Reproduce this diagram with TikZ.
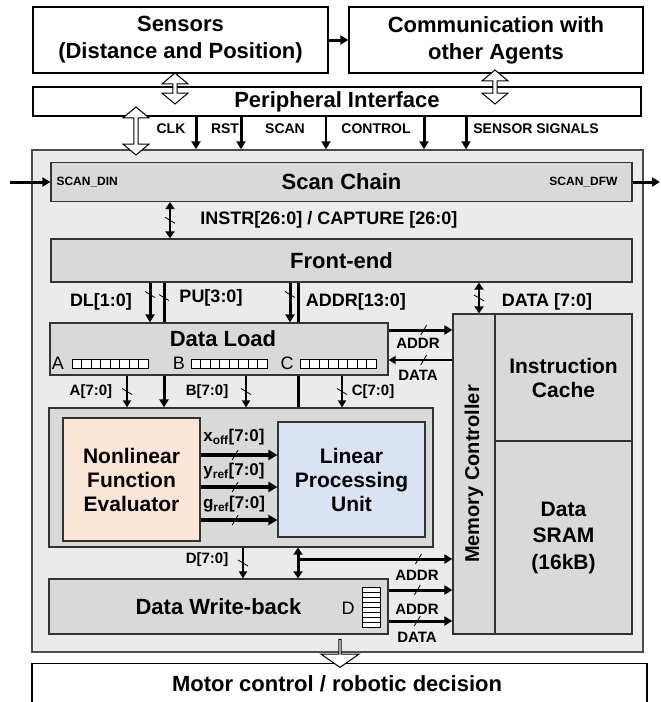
\documentclass[tikz,border=0pt]{standalone}
\usepackage{fontspec}
\setmainfont{Liberation Sans}
\usetikzlibrary{positioning,shapes.arrows,arrows.meta,decorations.markings}

\definecolor{nlfpeach}{HTML}{FBE5D6}
\definecolor{lpublue}{HTML}{DAE3F3}
\newcommand{\bigtxt}{\fontsize{22}{27}\selectfont\bfseries}
\newcommand{\midtxt}{\fontsize{18}{20}\selectfont\bfseries}
\newcommand{\smltxt}{\fontsize{15}{17}\selectfont\bfseries}
\newcommand{\sigtxt}{\fontsize{14}{16}\selectfont\bfseries}
\newcommand{\tnytxt}{\fontsize{12}{14}\selectfont\bfseries}
\newcommand{\regtxt}{\fontsize{18}{20}\selectfont}

\tikzset{
  wbox/.style={draw, line width=1.2pt, fill=white, inner sep=0pt, align=center, font=\bigtxt},
  gbox/.style={draw=black!80, line width=1.2pt, fill=black!15, inner sep=0pt, align=center, font=\bigtxt},
  hollowtwo/.style={double arrow, draw, fill=white, line width=1pt, inner sep=0pt,
    minimum width=26pt, double arrow head extend=2.5pt, double arrow tip angle=100, rotate=90},
  hollowone/.style={single arrow, draw, fill=white, line width=1pt, inner sep=0pt,
    minimum width=38pt, single arrow head extend=8pt, single arrow tip angle=110, rotate=-90},
  sig/.style={line width=3pt, -{Triangle[length=8pt,width=9pt]}},
  sigs/.style={line width=2pt, -{Triangle[length=7pt,width=8pt]}},
  bidir/.style={line width=2.5pt, {Triangle[length=7pt,width=9pt]}-{Triangle[length=7pt,width=9pt]}},
  busmark/.style={postaction={decorate}, decoration={markings,
    mark=at position #1 with {\draw[-, line width=0.8pt] (-3pt,-5pt) -- (3pt,5pt);}}},
}

\begin{document}
\begin{tikzpicture}[x=1pt,y=-1pt]
\useasboundingbox (0,0) rectangle (661,702);

% outside world
\node[wbox, minimum width=295, minimum height=66] (sens) at (180.5,40) {Sensors\\(Distance and Position)};
\node[wbox, minimum width=294, minimum height=66] (comm) at (496,40) {Communication with\\other Agents};
\draw[sig] (sens) -- (comm);
\node[wbox, minimum width=608, minimum height=29] (peri) at (337,101.5) {Peripheral Interface};
\node[hollowtwo, minimum height=31] (hsens) at (175,88.5) {};
\node[hollowtwo, minimum height=34] (hcomm) at (495,87) {};

% chip
\node[draw=black!70, line width=1.5pt, fill=black!8, minimum width=611, minimum height=502] (chip) at (337.5,401) {};
\node[hollowtwo, minimum height=48] (hperi) at (136,131) {};
\foreach \sx/\sw in {196/3, 241/3, 326/2, 424/3, 466/3}
  \draw[line width=\sw pt, -{Triangle[length=8pt,width=9pt]}] (peri.south -| \sx,0) -- (chip.north -| \sx,0);
\node[font=\sigtxt] (lclk) at (171,129) {CLK};
\node[font=\sigtxt] (lrst) at (225,129) {RST};
\node[font=\sigtxt] (lscan) at (285,129) {SCAN};
\node[font=\sigtxt] (lctrl) at (376,129) {CONTROL};
\node[font=\sigtxt] (lsens) at (536,129) {SENSOR SIGNALS};

\node[gbox, minimum width=581, minimum height=39] (scan) at (341.5,182) {Scan Chain};
\coordinate (sin) at (10,182);
\coordinate (sout) at (660,182);
\draw[sig] (sin) -- (scan.west);
\draw[sig] (scan.east) -- (sout);
\node[font=\tnytxt, anchor=west] (ldin) at (53,182) {SCAN\_DIN};
\node[font=\tnytxt, anchor=east] (ldfw) at (621,182) {SCAN\_DFW};

\node[gbox, minimum width=581, minimum height=43] (front) at (341.5,260.5) {Front-end};
\draw[bidir, busmark=0.5] (scan.south -| 170,0) -- (front.north -| 170,0);
\node[font=\midtxt] (linstr) at (329,220) {INSTR[26:0] / CAPTURE [26:0]};

\node[gbox, minimum width=384, minimum height=139] (comp) at (241,477.5) {};
\node[draw=black!80, line width=1.2pt, fill=nlfpeach, minimum width=137, minimum height=123, align=center,
  font=\fontsize{21}{24}\selectfont\bfseries] (nlf) at (131.5,479.5) {Nonlinear\\Function\\Evaluator};
\node[draw=black!80, line width=1.2pt, fill=lpublue, minimum width=147, minimum height=115, align=center,
  font=\fontsize{21}{24}\selectfont\bfseries] (lpu) at (351.5,479.5) {Linear\\Processing\\Unit};

\node[gbox, minimum width=42, minimum height=320] (mem) at (474,474) {};
\node[font=\fontsize{20}{22}\selectfont\bfseries, rotate=90] (memtxt) at (mem.center) {Memory Controller};
\node[gbox, minimum width=137, minimum height=127, font=\fontsize{21}{24}\selectfont\bfseries] (icache) at (563.5,377.5) {Instruction\\Cache};
\node[gbox, minimum width=137, minimum height=193, font=\fontsize{21}{26.5}\selectfont\bfseries] (sram) at (563.5,537.5) {Data\\SRAM\\(16kB)};

% lines passing behind data load
\draw[sig, busmark=0.12] (front.south -| 164,0) -- (comp.north -| 164,0);
\draw[line width=3pt] (front.south -| 298,0) -- (comp.north -| 298,0);

\node[gbox, minimum width=338, minimum height=52] (load) at (219,349) {};
\node[font=\bigtxt] (loadtxt) at (223,339) {Data Load};
\foreach \rx/\rl/\lx in {72/A/58, 191/B/179, 300/C/287} {
  \node[font=\regtxt] (reg\rl) at (\lx,363) {\rl};
  \foreach \i in {0,...,7}
    \draw[fill=white, line width=0.7pt] (\rx+\i*9.5,359) rectangle ++(9.5,9);
}

\draw[sig, busmark=0.3] (front.south -| 150,0) -- (load.north -| 150,0);
\draw[sig, busmark=0.3] (front.south -| 290,0) -- (load.north -| 290,0);
\draw[bidir, busmark=0.5] (front.south -| 479,0) -- (mem.north -| 479,0);
\node[font=\midtxt] (ldl) at (101,302) {DL[1:0]};
\node[font=\midtxt] (lpu3) at (211,298) {PU[3:0]};
\node[font=\midtxt] (laddr13) at (356,302) {ADDR[13:0]};
\node[font=\midtxt] (ldata7) at (547,302) {DATA [7:0]};

\draw[sig, busmark=0.55] (load.east |- 0,330) -- (mem.west |- 0,330);
\draw[sigs, line width=2.5pt, busmark=0.45] (mem.west |- 0,360) -- (load.east |- 0,360);
\node[font=\smltxt] (laddrl) at (418,343) {ADDR};
\node[font=\smltxt] (ldatal) at (418,375) {DATA};

\draw[sigs, busmark=0.5] (load.south -| 127,0) -- (comp.north -| 127,0);
\draw[sigs, busmark=0.5] (load.south -| 246,0) -- (comp.north -| 246,0);
\draw[sigs, busmark=0.5] (load.south -| 342,0) -- (comp.north -| 342,0);
\node[font=\smltxt] (la) at (91,392) {A[7:0]};
\node[font=\smltxt] (lb) at (207,392) {B[7:0]};
\node[font=\smltxt] (lc) at (373,392) {C[7:0]};

\foreach \ay in {455,487,520}
  \draw[line width=3.5pt, -{Triangle[length=9pt,width=10pt]}, busmark=0.45] (nlf.east |- 0,\ay) -- (lpu.west |- 0,\ay);
\node[font=\fontsize{17}{19}\selectfont\bfseries] (lxoff) at (234,437) {x\textsubscript{off}[7:0]};
\node[font=\fontsize{17}{19}\selectfont\bfseries] (lyref) at (234,471) {y\textsubscript{ref}[7:0]};
\node[font=\fontsize{17}{19}\selectfont\bfseries] (lgref) at (234,504) {g\textsubscript{ref}[7:0]};

% write-back
\node[gbox, minimum width=339, minimum height=55] (wb) at (218.5,606.5) {Data Write-back};
\node[font=\regtxt] (regD) at (348,608) {D};
\foreach \i in {0,...,7}
  \draw[fill=white, line width=0.7pt] (362,587+\i*5) rectangle ++(18,5);

\draw[sigs, line width=2.5pt, busmark=0.5] (comp.south -| 243,0) -- (wb.north -| 243,0);
\node[font=\smltxt] (ld) at (207,560) {D[7:0]};
\draw[bidir, line width=3pt] (comp.south -| 298,0) -- (wb.north -| 298,0);
\coordinate (jn) at (298,559);
\draw[sig, busmark=0.78] (jn) -- (mem.west |- jn);
\draw[sig, busmark=0.45] (wb.east |- 0,590) -- (mem.west |- 0,590);
\draw[sig, busmark=0.45] (wb.east |- 0,621) -- (mem.west |- 0,621);
\node[font=\smltxt] (laddrw) at (417,575) {ADDR};
\node[font=\smltxt] (laddrw2) at (417,609) {ADDR};
\node[font=\smltxt] (ldataw) at (417,637) {DATA};

% motor control
\node[wbox, anchor=north, minimum width=615, minimum height=60] (motor) at (339.5,663) {};
\node[font=\bigtxt] (motortxt) at (337,684) {Motor control / robotic decision};
\node[hollowone, minimum height=28] (hmotor) at (340,653) {};
\end{tikzpicture}
\end{document}
